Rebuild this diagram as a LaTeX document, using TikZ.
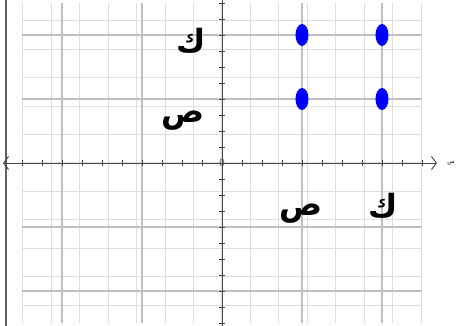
\documentclass[tikz,border=0pt]{standalone}
\usepackage{fontspec}
\newfontfamily\arabicfont[Script=Arabic]{DejaVu Sans}
\TeXXeTstate=1
\usetikzlibrary{arrows.meta, shapes.geometric}

\begin{document}
\begin{tikzpicture}
  [
    x=20pt, y=16pt,
    minor/.style={draw=black!13, line width=1.1pt},
    major/.style={draw=black!25, line width=1.1pt},
    axis/.style={draw=black!72, line width=0.9pt},
    barb/.tip={Straight Barb[length=5pt,width=13pt]},
    dot/.style={ellipse, fill=blue, minimum width=13pt, minimum height=22pt, inner sep=0pt},
    letter/.style={font=\arabicfont\bfseries\fontsize{32}{34}\selectfont, inner sep=0pt}
  ]
  \useasboundingbox (-11.1,-10.125) rectangle (11.7,10.1875);
  % grid
  \draw[minor] (-10,-10) grid (10,10);
  \foreach \k in {-8,-4,4,8} {
    \draw[major] (\k,-10) -- (\k,10);
    \draw[major] (-10,\k) -- (10,\k);
  }
  % left border
  \draw[black!62, line width=2pt] (-10.82,-10.2) -- (-10.82,10.2);
  % axes
  \node[font=\arabicfont\fontsize{6}{6}\selectfont, inner sep=0pt] (xlabel) at (11.45,0) {\beginR س\endR};
  \coordinate (xleft) at (-10.95,0);
  \coordinate (xright) at (10.75,0);
  \draw[axis, barb-barb] (xleft) -- (xright);
  \draw[axis] (0,-10.2) -- (0,10.2);
  \foreach \i in {-10,...,10} {
    \draw[axis] (\i,0) ++(0pt,-3pt) -- ++(0pt,6pt);
    \draw[axis] (0,\i) ++(-3pt,0pt) -- ++(6pt,0pt);
  }
  \node[font=\sffamily\fontsize{11}{11}\selectfont, inner sep=0pt, text=black!70] (origin) at (0,0) {0};
  % points
  \node[dot] (p48) at (4,8) {};
  \node[dot] (p88) at (8,8) {};
  \node[dot] (p44) at (4,4) {};
  \node[dot] (p84) at (8,4) {};
  % labels
  \node[letter] (kaf) at (-1.55,7.65) {\beginR ك\endR};
  \node[letter] (sad) at (-1.95,2.65) {\beginR ص\endR};
  \node[letter] (sadx) at (3.95,-3.15) {\beginR ص\endR};
  \node[letter] (kafx) at (8.05,-2.7) {\beginR ك\endR};
\end{tikzpicture}
\end{document}
